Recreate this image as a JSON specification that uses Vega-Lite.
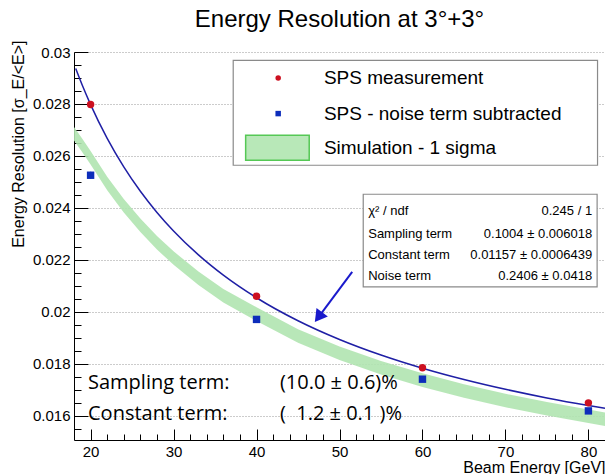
{
  "$schema": "https://vega.github.io/schema/vega-lite/v6.json",
  "width": 531,
  "height": 388,
  "autosize": {"type": "none"},
  "padding": {"left": 74, "top": 52, "right": 0, "bottom": 34},
  "background": "white",
  "config": {"view": {"stroke": null}, "font": "Liberation Sans"},
  "title": {"text": "Energy Resolution at 3°+3°", "fontSize": 24, "font": "Liberation Sans", "fontWeight": "normal", "anchor": "middle", "offset": -11, "baseline": "alphabetic", "color": "black"},
  "datasets": {
    "band": [
      {"E": 18, "lo": 0.02659, "hi": 0.02711},
      {"E": 19, "lo": 0.02614, "hi": 0.02666},
      {"E": 20, "lo": 0.02567, "hi": 0.02619},
      {"E": 22, "lo": 0.02468, "hi": 0.0252},
      {"E": 24, "lo": 0.02382, "hi": 0.02434},
      {"E": 26, "lo": 0.02307, "hi": 0.02359},
      {"E": 28, "lo": 0.0224, "hi": 0.02292},
      {"E": 30, "lo": 0.02181, "hi": 0.02233},
      {"E": 33, "lo": 0.02103, "hi": 0.02155},
      {"E": 36, "lo": 0.02036, "hi": 0.02088},
      {"E": 40, "lo": 0.01965, "hi": 0.02018},
      {"E": 45, "lo": 0.01881, "hi": 0.01933},
      {"E": 50, "lo": 0.01815, "hi": 0.01867},
      {"E": 55, "lo": 0.01759, "hi": 0.01811},
      {"E": 60, "lo": 0.01711, "hi": 0.01764},
      {"E": 65, "lo": 0.0167, "hi": 0.01722},
      {"E": 70, "lo": 0.01633, "hi": 0.01685},
      {"E": 75, "lo": 0.01601, "hi": 0.01653},
      {"E": 80, "lo": 0.01572, "hi": 0.01624},
      {"E": 82, "lo": 0.01561, "hi": 0.01613}
    ],
    "fit": [
      {"E": 18.2, "res": 0.029368},
      {"E": 19, "res": 0.028719},
      {"E": 20, "res": 0.027975},
      {"E": 22, "res": 0.026677},
      {"E": 24, "res": 0.025581},
      {"E": 26, "res": 0.024641},
      {"E": 28, "res": 0.023827},
      {"E": 30, "res": 0.023113},
      {"E": 33, "res": 0.022192},
      {"E": 36, "res": 0.021413},
      {"E": 40, "res": 0.020544},
      {"E": 45, "res": 0.019658},
      {"E": 50, "res": 0.018937},
      {"E": 55, "res": 0.018338},
      {"E": 60, "res": 0.017831},
      {"E": 65, "res": 0.017397},
      {"E": 70, "res": 0.01702},
      {"E": 75, "res": 0.01669},
      {"E": 80, "res": 0.016399},
      {"E": 82, "res": 0.016291}
    ],
    "meas": [
      {"E": 20, "res": 0.02798, "lo": 0.02788, "hi": 0.02808, "series": "SPS measurement"},
      {"E": 40, "res": 0.0206, "lo": 0.0205, "hi": 0.0207, "series": "SPS measurement"},
      {"E": 60, "res": 0.01785, "lo": 0.01775, "hi": 0.01795, "series": "SPS measurement"},
      {"E": 80, "res": 0.0165, "lo": 0.0164, "hi": 0.0166, "series": "SPS measurement"},
      {"E": 20, "res": 0.025258, "lo": 0.02513, "hi": 0.02539, "series": "SPS - noise term subtracted"},
      {"E": 40, "res": 0.01971, "lo": 0.0196, "hi": 0.01982, "series": "SPS - noise term subtracted"},
      {"E": 60, "res": 0.01741, "lo": 0.0173, "hi": 0.01752, "series": "SPS - noise term subtracted"},
      {"E": 80, "res": 0.01619, "lo": 0.01608, "hi": 0.0163, "series": "SPS - noise term subtracted"}
    ],
    "boxes": [
      {"box": "legend", "x1": 37.19, "x2": 81.1, "y1": 0.025642, "y2": 0.02968},
      {"box": "stats", "x1": 52.86, "x2": 81.05, "y1": 0.020962, "y2": 0.024527}
    ],
    "legendSymbols": [
      {"E": 42.61, "res": 0.029, "series": "SPS measurement"},
      {"E": 42.61, "res": 0.02763, "series": "SPS - noise term subtracted"}
    ],
    "legendBand": [
      {"x1": 38.69, "x2": 46.35, "y1": 0.025835, "y2": 0.0268}
    ],
    "texts": [
      {"kind": "legend", "x": 48.12, "y": 0.029, "text": "SPS measurement"},
      {"kind": "legend", "x": 48.12, "y": 0.02763, "text": "SPS - noise term subtracted"},
      {"kind": "legend", "x": 48.12, "y": 0.026296, "text": "Simulation - 1 sigma"},
      {"kind": "statsL", "x": 53.46, "y": 0.023885, "text": "χ² / ndf"},
      {"kind": "statsL", "x": 53.46, "y": 0.023015, "text": "Sampling term"},
      {"kind": "statsL", "x": 53.46, "y": 0.02218, "text": "Constant term"},
      {"kind": "statsL", "x": 53.46, "y": 0.021373, "text": "Noise term"},
      {"kind": "statsR", "x": 80.45, "y": 0.023885, "text": "0.245 / 1"},
      {"kind": "statsR", "x": 80.45, "y": 0.023015, "text": "0.1004 ± 0.006018"},
      {"kind": "statsR", "x": 80.45, "y": 0.02218, "text": "0.01157 ± 0.0006439"},
      {"kind": "statsR", "x": 80.45, "y": 0.021373, "text": "0.2406 ± 0.0418"},
      {"kind": "note", "x": 19.69, "y": 0.017246, "text": "Sampling term:"},
      {"kind": "note", "x": 19.69, "y": 0.016054, "text": "Constant term:"},
      {"kind": "note", "x": 42.82, "y": 0.017246, "text": "(10.0 ± 0.6)%"},
      {"kind": "note", "x": 42.82, "y": 0.016054, "text": "(\u00a0\u00a01.2 ± 0.1 )%"}
    ],
    "arrow": [
      {"x": 51.53, "y": 0.021538, "x2": 47.47, "y2": 0.0198}
    ]
  },
  "layer": [
    {
      "data": {"name": "band"},
      "mark": {"type": "area", "color": "#b0e4b0", "opacity": 0.9, "clip": true},
      "encoding": {
        "x": {
          "field": "E", "type": "quantitative",
          "scale": {"domain": [18, 82], "nice": false, "zero": false},
          "axis": {
            "title": "Beam Energy [GeV]",
            "titleAnchor": "end",
            "titleFontSize": 16,
            "titleFontWeight": "normal",
            "titleColor": "black",
            "titleBaseline": "alphabetic",
            "titleY": 32,
            "values": [20, 22, 24, 26, 28, 30, 32, 34, 36, 38, 40, 42, 44, 46, 48, 50, 52, 54, 56, 58, 60, 62, 64, 66, 68, 70, 72, 74, 76, 78, 80],
            "tickCount": 200,
            "format": "d",
            "labelExpr": "datum.value % 10 === 0 ? datum.label : ''",
            "tickSize": {"condition": {"test": "datum.value % 10 === 0", "value": -11}, "value": -6},
            "labelPadding": 15,
            "labelFontSize": 15,
            "labelColor": "black",
            "labelFlush": false,
            "labelOverlap": false,
            "grid": false,
            "domainColor": "black",
            "tickColor": "black"
          }
        },
        "y": {
          "field": "lo", "type": "quantitative",
          "scale": {"domain": [0.01507, 0.03], "nice": false, "zero": false},
          "axis": {
            "title": "Energy Resolution [σ_E/<E>]",
            "titleAnchor": "end",
            "titleFontSize": 16,
            "titleFontWeight": "normal",
            "titleColor": "black",
            "titleBaseline": "middle",
            "titleX": -56,
            "titleY": -12,
            "values": [0.0155, 0.016, 0.0165, 0.017, 0.0175, 0.018, 0.0185, 0.019, 0.0195, 0.02, 0.0205, 0.021, 0.0215, 0.022, 0.0225, 0.023, 0.0235, 0.024, 0.0245, 0.025, 0.0255, 0.026, 0.0265, 0.027, 0.0275, 0.028, 0.0285, 0.029, 0.0295, 0.03],
            "tickCount": 200,
            "format": "~g",
            "labelExpr": "abs(datum.value*500 - round(datum.value*500)) < 0.01 ? datum.label : ''",
            "tickSize": {"condition": {"test": "abs(datum.value*500 - round(datum.value*500)) < 0.01", "value": -14}, "value": -7},
            "labelPadding": 18,
            "labelFontSize": 15,
            "labelColor": "black",
            "labelOverlap": false,
            "labelFlush": false,
            "grid": true,
            "gridColor": "#999999",
            "gridDash": [1, 2],
            "gridOpacity": {"condition": {"test": "abs(datum.value*500 - round(datum.value*500)) < 0.01", "value": 1}, "value": 0},
            "domainColor": "black",
            "tickColor": "black"
          }
        },
        "y2": {"field": "hi"}
      }
    },
    {
      "data": {"name": "fit"},
      "mark": {"type": "line", "color": "#1f1fa5", "strokeWidth": 1.5, "interpolate": "monotone", "clip": true},
      "encoding": {
        "x": {"field": "E", "type": "quantitative"},
        "y": {"field": "res", "type": "quantitative"}
      }
    },
    {
      "data": {"name": "meas"},
      "mark": {"type": "rule", "strokeWidth": 1.2},
      "encoding": {
        "x": {"field": "E", "type": "quantitative"},
        "y": {"field": "lo", "type": "quantitative"},
        "y2": {"field": "hi"},
        "color": {"field": "series", "type": "nominal", "scale": {"domain": ["SPS measurement", "SPS - noise term subtracted"], "range": ["#cc1020", "#0d2dbb"]}, "legend": null}
      }
    },
    {
      "data": {"name": "meas"},
      "mark": {"type": "point", "filled": true, "opacity": 1},
      "encoding": {
        "x": {"field": "E", "type": "quantitative"},
        "y": {"field": "res", "type": "quantitative"},
        "color": {"field": "series", "type": "nominal", "legend": null},
        "shape": {"field": "series", "type": "nominal", "scale": {"domain": ["SPS measurement", "SPS - noise term subtracted"], "range": ["circle", "square"]}, "legend": null},
        "size": {"value": 55}
      }
    },
    {
      "data": {"name": "boxes"},
      "mark": {"type": "rect", "fill": "white", "stroke": "#8a8a8a", "strokeWidth": 1.2},
      "encoding": {
        "x": {"field": "x1", "type": "quantitative"},
        "x2": {"field": "x2"},
        "y": {"field": "y1", "type": "quantitative"},
        "y2": {"field": "y2"}
      }
    },
    {
      "data": {"name": "legendBand"},
      "mark": {"type": "rect", "fill": "#b8e8b8", "stroke": "#55c855", "strokeWidth": 1.5},
      "encoding": {
        "x": {"field": "x1", "type": "quantitative"},
        "x2": {"field": "x2"},
        "y": {"field": "y1", "type": "quantitative"},
        "y2": {"field": "y2"}
      }
    },
    {
      "data": {"name": "legendSymbols"},
      "mark": {"type": "point", "filled": true, "opacity": 1},
      "encoding": {
        "x": {"field": "E", "type": "quantitative"},
        "y": {"field": "res", "type": "quantitative"},
        "color": {"field": "series", "type": "nominal", "legend": null},
        "shape": {"field": "series", "type": "nominal", "legend": null},
        "size": {"value": 30}
      }
    },
    {
      "data": {"name": "texts"},
      "transform": [{"filter": "datum.kind === 'legend'"}],
      "mark": {"type": "text", "align": "left", "baseline": "middle", "fontSize": 19, "font": "Liberation Sans", "color": "black"},
      "encoding": {
        "x": {"field": "x", "type": "quantitative"},
        "y": {"field": "y", "type": "quantitative"},
        "text": {"field": "text"}
      }
    },
    {
      "data": {"name": "texts"},
      "transform": [{"filter": "datum.kind === 'statsL'"}],
      "mark": {"type": "text", "align": "left", "baseline": "middle", "fontSize": 13, "font": "Liberation Sans", "color": "black"},
      "encoding": {
        "x": {"field": "x", "type": "quantitative"},
        "y": {"field": "y", "type": "quantitative"},
        "text": {"field": "text"}
      }
    },
    {
      "data": {"name": "texts"},
      "transform": [{"filter": "datum.kind === 'statsR'"}],
      "mark": {"type": "text", "align": "right", "baseline": "middle", "fontSize": 13, "font": "Liberation Sans", "color": "black"},
      "encoding": {
        "x": {"field": "x", "type": "quantitative"},
        "y": {"field": "y", "type": "quantitative"},
        "text": {"field": "text"}
      }
    },
    {
      "data": {"name": "texts"},
      "transform": [{"filter": "datum.kind === 'note'"}],
      "mark": {"type": "text", "align": "left", "baseline": "middle", "fontSize": 20, "font": "Open Sans", "color": "black"},
      "encoding": {
        "x": {"field": "x", "type": "quantitative"},
        "y": {"field": "y", "type": "quantitative"},
        "text": {"field": "text"}
      }
    },
    {
      "data": {"name": "arrow"},
      "mark": {"type": "rule", "color": "#1a1acc", "strokeWidth": 2},
      "encoding": {
        "x": {"field": "x", "type": "quantitative"},
        "y": {"field": "y", "type": "quantitative"},
        "x2": {"field": "x2"},
        "y2": {"field": "y2"}
      }
    },
    {
      "data": {"name": "arrow"},
      "mark": {"type": "point", "shape": "triangle-up", "filled": true, "color": "#1a1acc", "opacity": 1, "size": 200, "angle": 216.7},
      "encoding": {
        "x": {"field": "x2", "type": "quantitative"},
        "y": {"field": "y2", "type": "quantitative"}
      }
    }
  ]
}
